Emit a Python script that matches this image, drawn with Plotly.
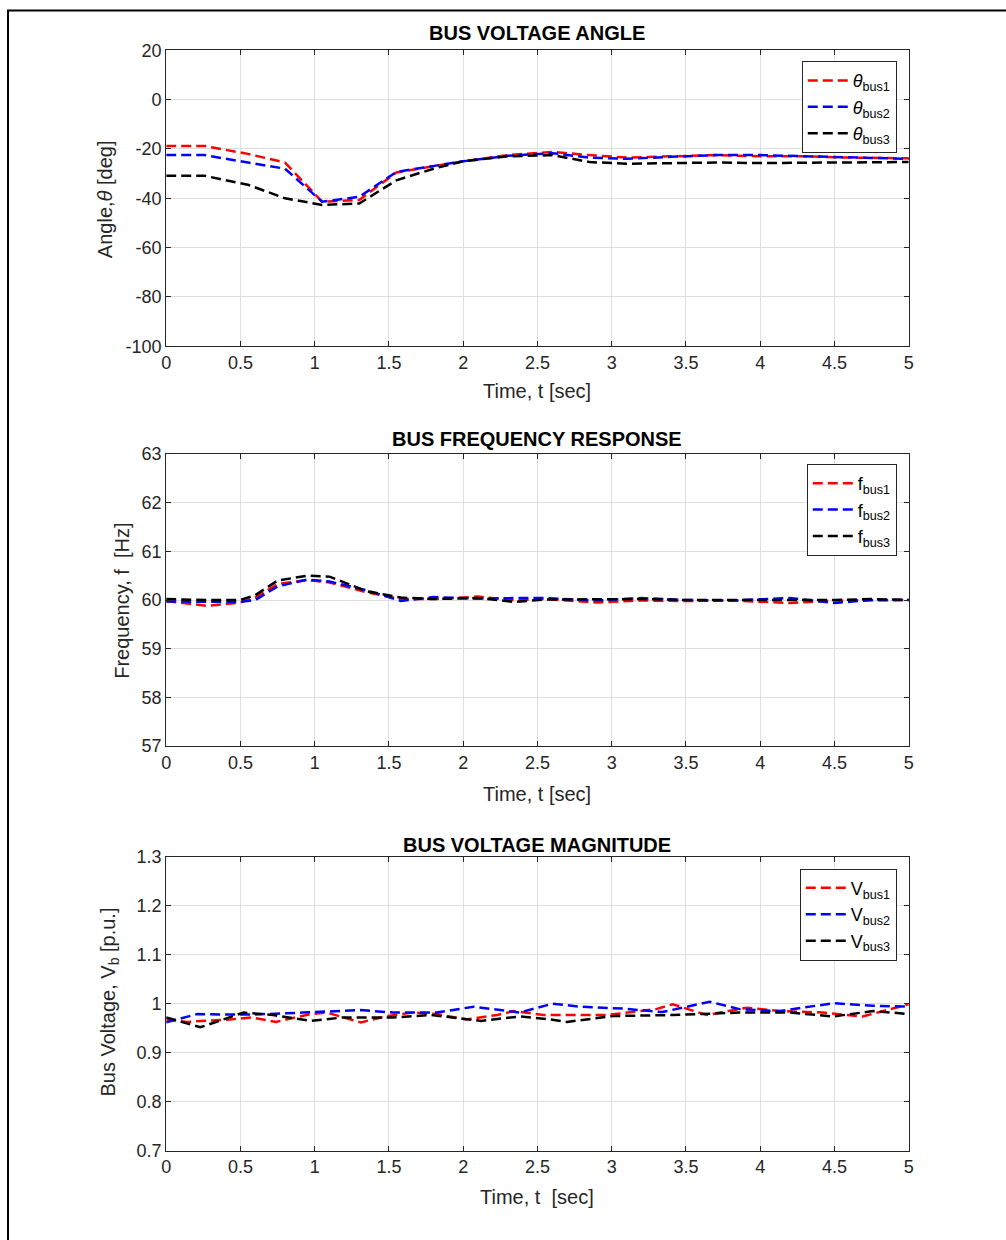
import plotly.graph_objects as go

# ---------------- data ----------------
t_angle = [0, 0.26, 0.55, 0.8, 1.05, 1.3, 1.55, 1.8, 2.0, 2.3, 2.6, 2.85, 3.1, 3.4, 3.7, 4.0, 4.3, 4.6, 5.0]
theta_bus1 = [-18.8, -18.8, -22.0, -25.5, -41.4, -40.7, -29.5, -27.0, -25.0, -22.5, -21.2, -22.5, -23.5, -23.0, -22.5, -23.0, -23.0, -23.5, -23.8]
theta_bus2 = [-22.5, -22.5, -25.5, -28.0, -41.4, -39.4, -29.3, -27.0, -25.0, -22.8, -21.7, -23.5, -24.0, -23.2, -22.5, -22.5, -23.0, -23.5, -24.0]
theta_bus3 = [-30.9, -30.9, -34.5, -40.0, -42.7, -42.1, -32.7, -28.0, -25.0, -23.0, -22.5, -25.3, -26.0, -25.8, -25.5, -25.7, -25.5, -25.5, -25.3]

t_freq = [0, 0.27, 0.5, 0.6, 0.75, 0.95, 1.1, 1.35, 1.58, 1.8, 2.1, 2.35, 2.55, 2.9, 3.2, 3.5, 3.8, 4.2, 4.5, 4.75, 5.0]
f_bus1 = [59.98, 59.88, 59.95, 60.05, 60.33, 60.41, 60.36, 60.16, 60.02, 60.02, 60.07, 59.99, 60.02, 59.95, 59.99, 59.98, 59.99, 59.94, 59.99, 59.99, 60.0]
f_bus2 = [59.97, 59.96, 59.96, 60.0, 60.28, 60.42, 60.38, 60.2, 59.98, 60.06, 60.03, 60.04, 60.04, 59.99, 60.04, 60.0, 59.99, 60.04, 59.94, 60.0, 60.0]
f_bus3 = [60.02, 60.0, 60.0, 60.1, 60.4, 60.5, 60.48, 60.18, 60.05, 60.02, 60.04, 59.96, 60.01, 60.02, 60.02, 60.0, 60.0, 60.01, 60.0, 60.02, 60.0]

t_v1 = [0, 0.14, 0.43, 0.57, 0.74, 0.97, 1.08, 1.31, 1.49, 1.66, 1.82, 2.02, 2.23, 2.34, 2.54, 2.66, 2.97, 3.3, 3.41, 3.64, 3.91, 4.13, 4.42, 4.69, 5.0]
v_bus1 = [0.968, 0.963, 0.968, 0.972, 0.963, 0.979, 0.982, 0.962, 0.975, 0.982, 0.979, 0.968, 0.977, 0.985, 0.977, 0.977, 0.977, 0.989, 0.999, 0.977, 0.992, 0.985, 0.982, 0.974, 0.999]
t_v2 = [0, 0.21, 0.41, 0.6, 0.92, 1.31, 1.53, 1.82, 2.07, 2.38, 2.6, 2.79, 3.08, 3.34, 3.66, 3.86, 4.13, 4.49, 4.76, 5.0]
v_bus2 = [0.962, 0.979, 0.978, 0.978, 0.982, 0.987, 0.982, 0.982, 0.994, 0.982, 1.0, 0.994, 0.99, 0.983, 1.004, 0.989, 0.985, 1.001, 0.996, 0.994]
t_v3 = [0, 0.23, 0.52, 0.72, 0.97, 1.19, 1.53, 1.78, 2.12, 2.38, 2.59, 2.7, 3.01, 3.41, 3.86, 4.2, 4.49, 4.76, 5.0]
v_bus3 = [0.972, 0.952, 0.982, 0.977, 0.965, 0.972, 0.972, 0.977, 0.965, 0.974, 0.968, 0.963, 0.975, 0.977, 0.982, 0.982, 0.974, 0.985, 0.979]

angle_ticks = [20, 0, -20, -40, -60, -80, -100]
angle_ticklabels = ["20", "0", "-20", "-40", "-60", "-80", "-100"]

colors = ["#ff0000", "#0000ff", "#000000"]
angle_names = ["<i>θ</i><sub>bus1</sub>", "<i>θ</i><sub>bus2</sub>", "<i>θ</i><sub>bus3</sub>"]
freq_names = ["f<sub>bus1</sub>", "f<sub>bus2</sub>", "f<sub>bus3</sub>"]
volt_names = ["V<sub>bus1</sub>", "V<sub>bus2</sub>", "V<sub>bus3</sub>"]

# ---------------- figure ----------------
W, H = 1006, 1240
FONT = "Liberation Sans, Arial, Helvetica, sans-serif"
AX = "#262626"
GRID = "#dedede"
DASH = "10px,5px"

fig = go.Figure()

def add_series(xs, ys, names, xa, ya, legend):
    for x, y, n, c in zip(xs, ys, names, colors):
        fig.add_trace(go.Scatter(x=x, y=y, name=n, mode="lines",
                                 line=dict(color=c, width=2.5, dash=DASH),
                                 xaxis=xa, yaxis=ya, legend=legend))

add_series([t_angle] * 3, [theta_bus1, theta_bus2, theta_bus3], angle_names, "x", "y", "legend")
add_series([t_freq] * 3, [f_bus1, f_bus2, f_bus3], freq_names, "x2", "y2", "legend2")
add_series([t_v1, t_v2, t_v3], [v_bus1, v_bus2, v_bus3], volt_names, "x3", "y3", "legend3")

# map reference-pixel positions to page positions (small capture offset/scale compensation)
SX, SY, OX, OY = 0.992, 0.987, 3.5, 7.7

def px_x(p):
    return (p / SX - OX) / W

def px_y(p):
    return 1 - (p / SY - OY) / H

xdom = [px_x(165), px_x(909)]
boxes = [(48, 345), (453, 746), (857, 1152)]

TICKFONT = dict(family=FONT, size=18, color=AX)

def xax(anchor):
    return dict(domain=xdom, anchor=anchor, range=[0, 5], dtick=0.5, tick0=0,
                showline=True, linecolor=AX, linewidth=1, mirror="ticks",
                ticks="inside", ticklen=5, tickcolor=AX, showgrid=True,
                gridcolor=GRID, gridwidth=1, zeroline=False, tickfont=TICKFONT)

def yax(anchor, dom, rng, dtick):
    return dict(domain=dom, anchor=anchor, range=rng, dtick=dtick,
                showline=True, linecolor=AX, linewidth=1, mirror="ticks",
                ticks="inside", ticklen=5, tickcolor=AX, showgrid=True,
                gridcolor=GRID, gridwidth=1, zeroline=False, tickfont=TICKFONT)

doms = [[px_y(b), px_y(t)] for t, b in boxes]

legend_common = dict(bgcolor="white", bordercolor=AX, borderwidth=1,
                     font=dict(family=FONT, size=18, color="black"),
                     xanchor="right", yanchor="top", tracegroupgap=0,
                     itemwidth=40)

annotations = []
titles = ["BUS VOLTAGE ANGLE", "BUS FREQUENCY RESPONSE", "BUS VOLTAGE MAGNITUDE"]
title_y = [31, 438, 845]
for tt, ty in zip(titles, title_y):
    annotations.append(dict(text="<b>" + tt + "</b>", x=px_x(537), y=px_y(ty),
                            xref="paper", yref="paper", showarrow=False,
                            xanchor="center", yanchor="middle",
                            font=dict(family=FONT, size=20, color="black")))
xt = ["Time, t [sec]", "Time, t [sec]", "Time, t  [sec]"]
xt_y = [390, 794, 1198]
for tt, ty in zip(xt, xt_y):
    annotations.append(dict(text=tt, x=px_x(537), y=px_y(ty), xref="paper", yref="paper",
                            showarrow=False, xanchor="center", yanchor="middle",
                            font=dict(family=FONT, size=20, color=AX)))
yt = ["Angle,<i>θ</i> [deg]", "Frequency, f  [Hz]", "Bus Voltage, V<sub>b</sub> [p.u.]"]
yt_pos = [(103, 197), (120, 600), (108, 1003)]
for tt, (px, py) in zip(yt, yt_pos):
    annotations.append(dict(text=tt, x=px_x(px), y=px_y(py), xref="paper", yref="paper",
                            showarrow=False, xanchor="center", yanchor="middle",
                            textangle=-90,
                            font=dict(family=FONT, size=20, color=AX)))

ya1 = yax("x", doms[0], [-100, 20], 20)
ya1.update(tickmode="array", tickvals=angle_ticks, ticktext=angle_ticklabels)

fig.update_layout(
    width=W, height=H, margin=dict(l=0, r=0, t=0, b=0),
    paper_bgcolor="white", plot_bgcolor="white",
    xaxis=xax("y"), yaxis=ya1,
    xaxis2=xax("y2"), yaxis2=yax("x2", doms[1], [57, 63], 1),
    xaxis3=xax("y3"), yaxis3=yax("x3", doms[2], [0.7, 1.3], 0.1),
    legend=dict(x=px_x(897), y=px_y(59), **legend_common),
    legend2=dict(x=px_x(897), y=px_y(463), **legend_common),
    legend3=dict(x=px_x(897), y=px_y(869), **legend_common),
    annotations=annotations,
    shapes=[dict(type="rect", xref="paper", yref="paper",
                 x0=px_x(6.5), x1=1.02, y0=-0.02, y1=1 - 0.5 / H,
                 line=dict(color="black", width=2))],
    showlegend=True,
)

fig.write_html("out.html", config={"displayModeBar": False},
               post_script="document.body.style.margin='0';document.body.style.overflow='hidden';")
